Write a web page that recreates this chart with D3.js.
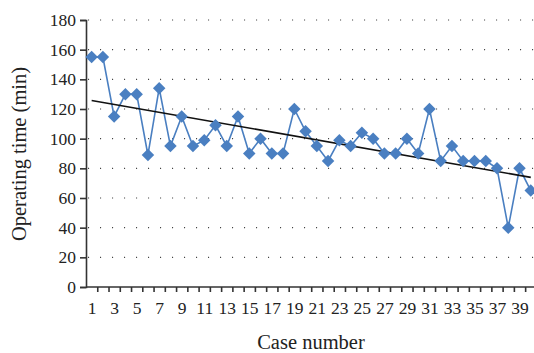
<!DOCTYPE html>
<html>
<head>
<meta charset="utf-8">
<script src="https://cdn.jsdelivr.net/npm/d3@7"></script>
<style>
  body { margin: 0; background: #fff; }
</style>
</head>
<body>
<svg id="chart"></svg>
<script>
// case numbers and operating times
var cases = d3.range(1, 41);
var times = [155, 155, 115, 130, 130, 89, 134, 95, 115, 95,
             99, 109, 95, 115, 90, 100, 90, 90, 120, 105,
             95, 85, 99, 95, 104, 100, 90, 90, 100, 90,
             120, 85, 95, 85, 85, 85, 80, 40, 80, 65];
var yTicks = [0, 20, 40, 60, 80, 100, 120, 140, 160, 180];
var xLabels = cases.filter(function (d) { return d % 2 == 1; });

var width = 534, height = 353;
var margin = { left: 86, top: 20, bottom: 66 };
var serif = "'Liberation Serif', 'DejaVu Serif', serif";

var svg = d3.select("#chart").attr("width", width).attr("height", height);

var x = d3.scaleLinear().domain([0.5, 40.5]).range([margin.left, margin.left + 40 * 11.26]);
var y = d3.scaleLinear().domain([0, 180]).range([height - margin.bottom, margin.top]);

// dotted gridlines
svg.append("g")
  .selectAll("line")
  .data(yTicks.filter(function (d) { return d > 0; }))
  .enter()
  .append("line")
  .attr("x1", margin.left + 2)
  .attr("x2", width)
  .attr("y1", function (d) { return y(d); })
  .attr("y2", function (d) { return y(d); })
  .attr("stroke", "#444")
  .attr("stroke-width", 1.1)
  .attr("stroke-dasharray", "1.1,10.9");

// y axis
var yAxis = svg.append("g")
  .attr("transform", "translate(" + margin.left + ",0)")
  .call(d3.axisLeft(y).tickValues(yTicks).tickSize(6).tickPadding(4));

// x axis: ticks on category boundaries, labels on odd cases
var bounds = d3.range(1, 41).map(function (d) { return d + 0.5; });
var xAxis = svg.append("g")
  .attr("transform", "translate(0," + y(0) + ")")
  .call(d3.axisBottom(x).tickValues(bounds).tickFormat("").tickSize(5).tickSizeOuter(0));
xAxis.select(".domain").attr("d", "M" + margin.left + ",0H" + width);

var xLab = svg.append("g")
  .attr("transform", "translate(0," + y(0) + ")")
  .call(d3.axisBottom(x).tickValues(xLabels).tickSize(0).tickPadding(15));
xLab.select(".domain").remove();

svg.selectAll(".domain, .tick line").attr("stroke", "#333").attr("stroke-width", 1.6);
svg.selectAll("g").attr("font-family", null).attr("font-size", null);
svg.selectAll(".tick text")
  .attr("font-family", serif)
  .attr("font-size", 17.5)
  .attr("fill", "#222");

// series line
var blue = "#4a7fc1";
var line = d3.line()
  .x(function (d, i) { return x(cases[i]); })
  .y(function (d) { return y(d); });

svg.append("path")
  .datum(times)
  .attr("d", line)
  .attr("fill", "none")
  .attr("stroke", blue)
  .attr("stroke-width", 1.6);

// linear trend line
var mx = d3.mean(cases), my = d3.mean(times);
var sxy = d3.sum(cases, function (d, i) { return (d - mx) * (times[i] - my); });
var sxx = d3.sum(cases, function (d) { return (d - mx) * (d - mx); });
var slope = sxy / sxx, icpt = my - slope * mx;

svg.append("line")
  .attr("x1", x(1))
  .attr("y1", y(icpt + slope * 1))
  .attr("x2", x(40))
  .attr("y2", y(icpt + slope * 40))
  .attr("stroke", "#111")
  .attr("stroke-width", 1.6);

// diamond markers
var diamond = d3.symbol().type(d3.symbolSquare).size(78);
svg.append("g")
  .selectAll("path")
  .data(times)
  .enter()
  .append("path")
  .attr("d", diamond)
  .attr("transform", function (d, i) {
    return "translate(" + x(cases[i]) + "," + y(d) + ") rotate(45)";
  })
  .attr("fill", blue);

// axis titles
svg.append("text")
  .attr("x", 311)
  .attr("y", 349)
  .attr("text-anchor", "middle")
  .attr("font-family", serif)
  .attr("font-size", 20.5)
  .attr("fill", "#222")
  .text("Case number");

svg.append("text")
  .attr("transform", "translate(26,154) rotate(-90)")
  .attr("text-anchor", "middle")
  .attr("font-family", serif)
  .attr("font-size", 20.5)
  .attr("fill", "#222")
  .text("Operating time (min)");
</script>
</body>
</html>
